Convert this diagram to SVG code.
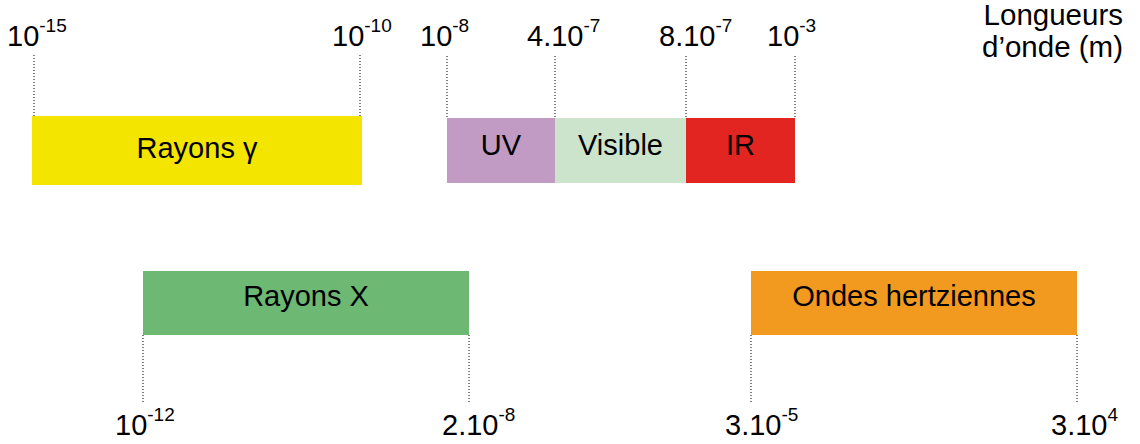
<svg xmlns="http://www.w3.org/2000/svg" width="1140" height="444" viewBox="0 0 1140 444">
<style>
text{font-family:"Liberation Sans",Arial,sans-serif;fill:#000}
.lbl{font-size:29px}
.sup{font-size:19px}
.box{font-size:29px;text-anchor:middle}
.dot{stroke:#000;stroke-width:1;stroke-dasharray:1 2;fill:none}
</style>
<rect width="1140" height="444" fill="#fff"/>
<g id="connectors">
<line class="dot" x1="34" y1="55" x2="34" y2="118"/>
<line class="dot" x1="360" y1="55" x2="360" y2="118"/>
<line class="dot" x1="447" y1="56" x2="447" y2="119"/>
<line class="dot" x1="555" y1="56" x2="555" y2="119"/>
<line class="dot" x1="686" y1="56" x2="686" y2="119"/>
<line class="dot" x1="795" y1="56" x2="795" y2="119"/>
<line class="dot" x1="143" y1="335" x2="143" y2="402"/>
<line class="dot" x1="469" y1="335" x2="469" y2="402"/>
<line class="dot" x1="751" y1="335" x2="751" y2="402"/>
<line class="dot" x1="1077" y1="335" x2="1077" y2="402"/>
</g>
<g id="gamma">
<rect x="32" y="116" width="330" height="69" fill="#F3E500"/>
<text class="box" x="197" y="158">Rayons γ</text>
</g>
<g id="uv">
<rect x="447" y="118" width="108" height="65" fill="#C29BC5"/>
<text class="box" x="501" y="155">UV</text>
</g>
<g id="visible">
<rect x="555" y="118" width="131" height="65" fill="#CBE4CB"/>
<text class="box" x="620.5" y="155">Visible</text>
</g>
<g id="ir">
<rect x="686" y="118" width="109" height="65" fill="#E32522"/>
<text class="box" x="740.5" y="155">IR</text>
</g>
<g id="xrays">
<rect x="143" y="271" width="326" height="64" fill="#6DB872"/>
<text class="box" x="306" y="306">Rayons X</text>
</g>
<g id="hertz">
<rect x="751" y="271" width="326" height="64" fill="#F29A1F"/>
<text class="box" x="914" y="306">Ondes hertziennes</text>
</g>
<g id="labels">
<text class="lbl" x="7" y="46">10<tspan class="sup" dy="-14">-15</tspan></text>
<text class="lbl" x="332" y="46">10<tspan class="sup" dy="-14">-10</tspan></text>
<text class="lbl" x="420" y="46">10<tspan class="sup" dy="-14">-8</tspan></text>
<text class="lbl" x="527" y="46">4.10<tspan class="sup" dy="-14">-7</tspan></text>
<text class="lbl" x="659" y="46">8.10<tspan class="sup" dy="-14">-7</tspan></text>
<text class="lbl" x="767" y="46">10<tspan class="sup" dy="-14">-3</tspan></text>
<text class="lbl" x="115" y="435">10<tspan class="sup" dy="-14">-12</tspan></text>
<text class="lbl" x="442" y="435">2.10<tspan class="sup" dy="-14">-8</tspan></text>
<text class="lbl" x="725" y="435">3.10<tspan class="sup" dy="-14">-5</tspan></text>
<text class="lbl" x="1051" y="435">3.10<tspan class="sup" dy="-14">4</tspan></text>
<text class="lbl" x="1123" y="25" text-anchor="end" style="font-size:29.5px">Longueurs</text>
<text class="lbl" x="1123" y="57" text-anchor="end" style="font-size:29.5px">d’onde (m)</text>
</g>
</svg>
